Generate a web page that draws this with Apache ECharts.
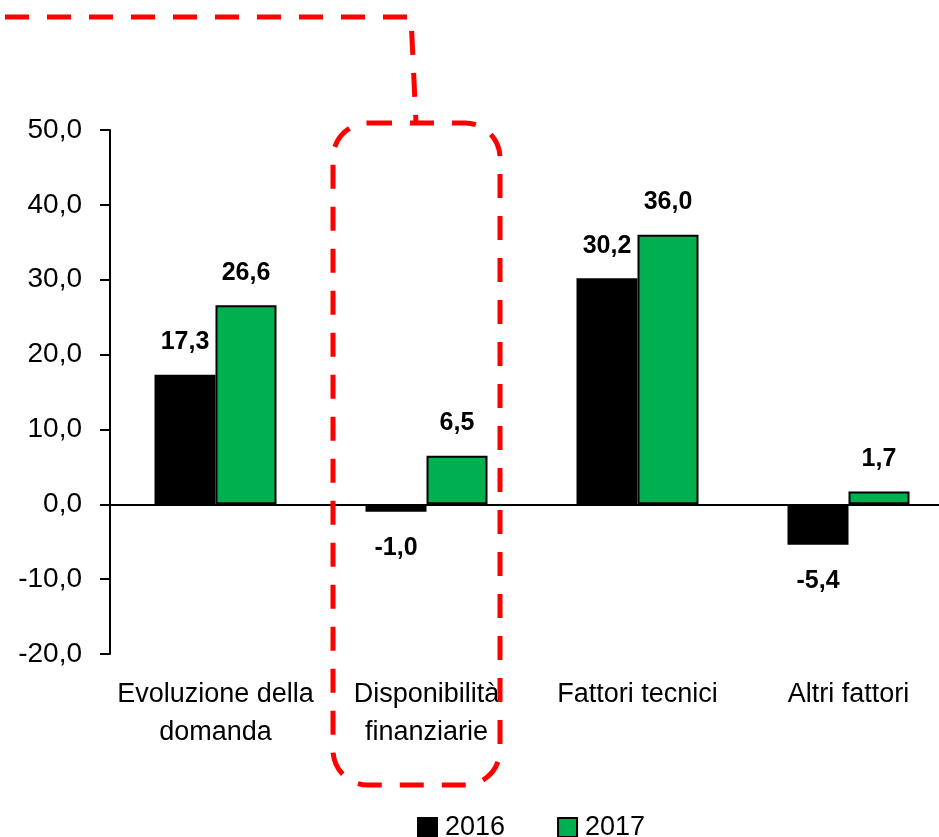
<!DOCTYPE html>
<html>
<head>
<meta charset="utf-8">
<script src="https://cdn.jsdelivr.net/npm/echarts@6/dist/echarts.min.js"></script>
<style>
    html, body { margin: 0; padding: 0; background: #fff; }
    #chart { width: 939px; height: 837px; }
</style>
</head>
<body>
<div id="chart"></div>
<script>
    var categories = ['Evoluzione della\ndomanda', 'Disponibilità\nfinanziarie', 'Fattori tecnici', 'Altri fattori'];
    var values2016 = [17.3, -1.0, 30.2, -5.4];
    var values2017 = [26.6, 6.5, 36.0, 1.7];
    var seriesNames = ['2016', '2017'];
    var yMin = -20, yMax = 50, yStep = 10;

    var font = "'Liberation Sans', Arial, sans-serif";

    function fmt(v) {
        return Number(v).toFixed(1).replace('.', ',');
    }

    // negative bars get their label underneath
    function withLabels(arr) {
        return arr.map(function (v) {
            return {
                value: v,
                label: { position: v < 0 ? 'bottom' : 'top', distance: v < 0 ? 24 : 20 }
            };
        });
    }

    var chart = echarts.init(document.getElementById('chart'));
    chart.setOption({
        animation: false,
        textStyle: { fontFamily: font },
        grid: { left: 110, width: 844, top: 130, bottom: 183, outerBoundsMode: 'none', containLabel: false },
        legend: {
            data: seriesNames,
            left: 412,
            top: 809,
            itemWidth: 19,
            itemHeight: 19,
            itemGap: 52,
            icon: 'rect',
            textStyle: { fontSize: 27, color: '#000', fontFamily: font, padding: [0, 0, 0, 3] }
        },
        xAxis: {
            type: 'category',
            data: categories,
            axisLine: { onZero: true, lineStyle: { color: '#000', width: 2 } },
            axisTick: { length: 10, lineStyle: { color: '#000', width: 2 } },
            axisLabel: {
                margin: 22,
                fontSize: 27,
                lineHeight: 38,
                color: '#000',
                fontFamily: font,
                verticalAlign: 'top',
                interval: 0
            }
        },
        yAxis: {
            type: 'value',
            min: yMin,
            max: yMax,
            interval: yStep,
            axisLine: { show: true, lineStyle: { color: '#000', width: 2 } },
            axisTick: { show: true, length: 10, lineStyle: { color: '#000', width: 2 } },
            splitLine: { show: false },
            axisLabel: {
                margin: 28,
                fontSize: 28,
                color: '#000',
                fontFamily: font,
                formatter: fmt
            }
        },
        series: [
            {
                name: seriesNames[0],
                type: 'bar',
                data: withLabels(values2016),
                barWidth: 61,
                barGap: 0,
                itemStyle: { color: '#000000', borderColor: '#000', borderWidth: 2 },
                label: {
                    show: true,
                    fontSize: 25,
                    fontWeight: 'bold',
                    color: '#000',
                    fontFamily: font,
                    formatter: function (p) { return fmt(p.value); }
                }
            },
            {
                name: seriesNames[1],
                type: 'bar',
                data: withLabels(values2017),
                barWidth: 61,
                barGap: 0,
                itemStyle: { color: '#00B050', borderColor: '#000', borderWidth: 2 },
                label: {
                    show: true,
                    fontSize: 25,
                    fontWeight: 'bold',
                    color: '#000',
                    fontFamily: font,
                    formatter: function (p) { return fmt(p.value); }
                }
            }
        ],
        graphic: [
            {
                type: 'polyline',
                z: 100,
                shape: { points: [[5, 17], [411, 17], [416, 123]] },
                style: { stroke: '#FF0000', fill: null, lineWidth: 5, lineDash: [24, 18] }
            },
            {
                type: 'rect',
                z: 100,
                shape: { x: 333, y: 123, width: 167, height: 662, r: 35 },
                style: { stroke: '#FF0000', fill: null, lineWidth: 5, lineDash: [24, 18] }
            }
        ]
    });
</script>
</body>
</html>
